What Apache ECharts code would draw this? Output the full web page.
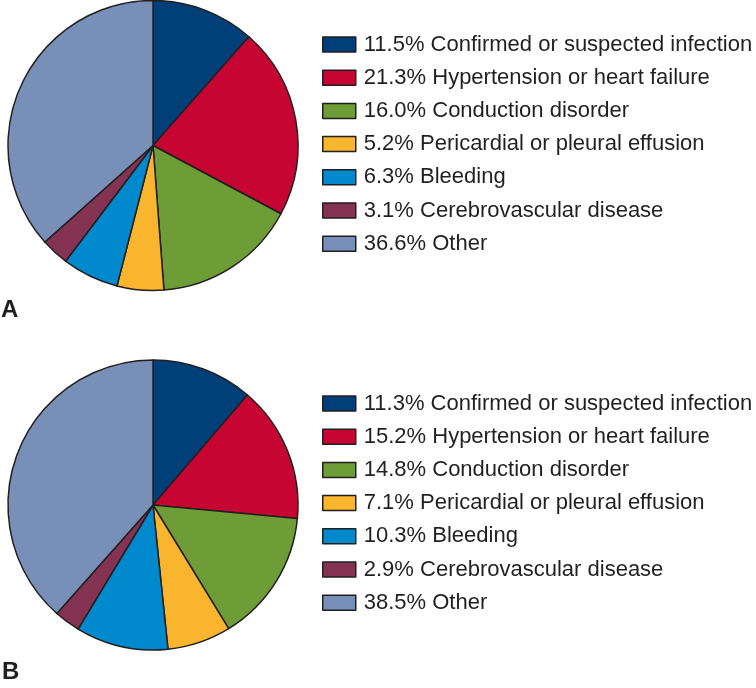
<!DOCTYPE html>
<html><head><meta charset="utf-8">
<script src="https://cdn.jsdelivr.net/npm/echarts@6/dist/echarts.min.js"></script>
<style>html,body{margin:0;padding:0;background:#fff}#c{width:756px;height:688px}</style>
</head><body><div id="c"></div>
<script>
const categories = ["Confirmed or suspected infection","Hypertension or heart failure","Conduction disorder","Pericardial or pleural effusion","Bleeding","Cerebrovascular disease","Other"];
const valuesA = [11.5, 21.3, 16.0, 5.2, 6.3, 3.1, 36.6];
const valuesB = [11.3, 15.2, 14.8, 7.1, 10.3, 2.9, 38.5];
const panelLabels = ["A", "B"];
const colors = ["#003f78","#c70532","#6e9c36","#f8b52d","#0089cc","#843352","#7890b8"];

const mk = (vals) => vals.map((v,i)=>({name: v.toFixed(1)+'% '+categories[i], value: v, itemStyle:{color: colors[i]}}));
const dA = mk(valuesA), dB = mk(valuesB);
const ink = '#231f20';
const font = 'Liberation Sans, Arial, sans-serif';
const chart = echarts.init(document.getElementById('c'), null, {renderer:'canvas'});
const legendBase = (data, top) => ({
  data: data.map(d=>d.name), left: 322, top: top, orient:'vertical', padding: 0,
  itemWidth: 33, itemHeight: 15, itemGap: 11.2, icon: 'rect', selectedMode:false,
  itemStyle:{borderColor: ink, borderWidth: 1.5},
  textStyle:{fontFamily: font, fontSize:22, lineHeight:22, color: ink, padding:[0,0,0,3]}
});
const pieBase = (data, cy) => ({
  type:'pie', radius: 145, center:[153, cy], startAngle: 90, clockwise:true,
  label:{show:false}, labelLine:{show:false}, silent:true, animation:false,
  itemStyle:{borderColor: ink, borderWidth: 1.5},
  data: data
});
chart.setOption({
  animation:false,
  legend:[legendBase(dA, 33.5), legendBase(dB, 392.5)],
  series:[pieBase(dA, 145.5), pieBase(dB, 505)],
  graphic:[
    {type:'text', x: 1, y: 310, style:{text: panelLabels[0], fontFamily: font, fontWeight:'bold', fontSize:24, fill: ink, verticalAlign:'middle'}},
    {type:'text', x: 2, y: 672, style:{text: panelLabels[1], fontFamily: font, fontWeight:'bold', fontSize:24, fill: ink, verticalAlign:'middle'}}
  ]
});
</script></body></html>
